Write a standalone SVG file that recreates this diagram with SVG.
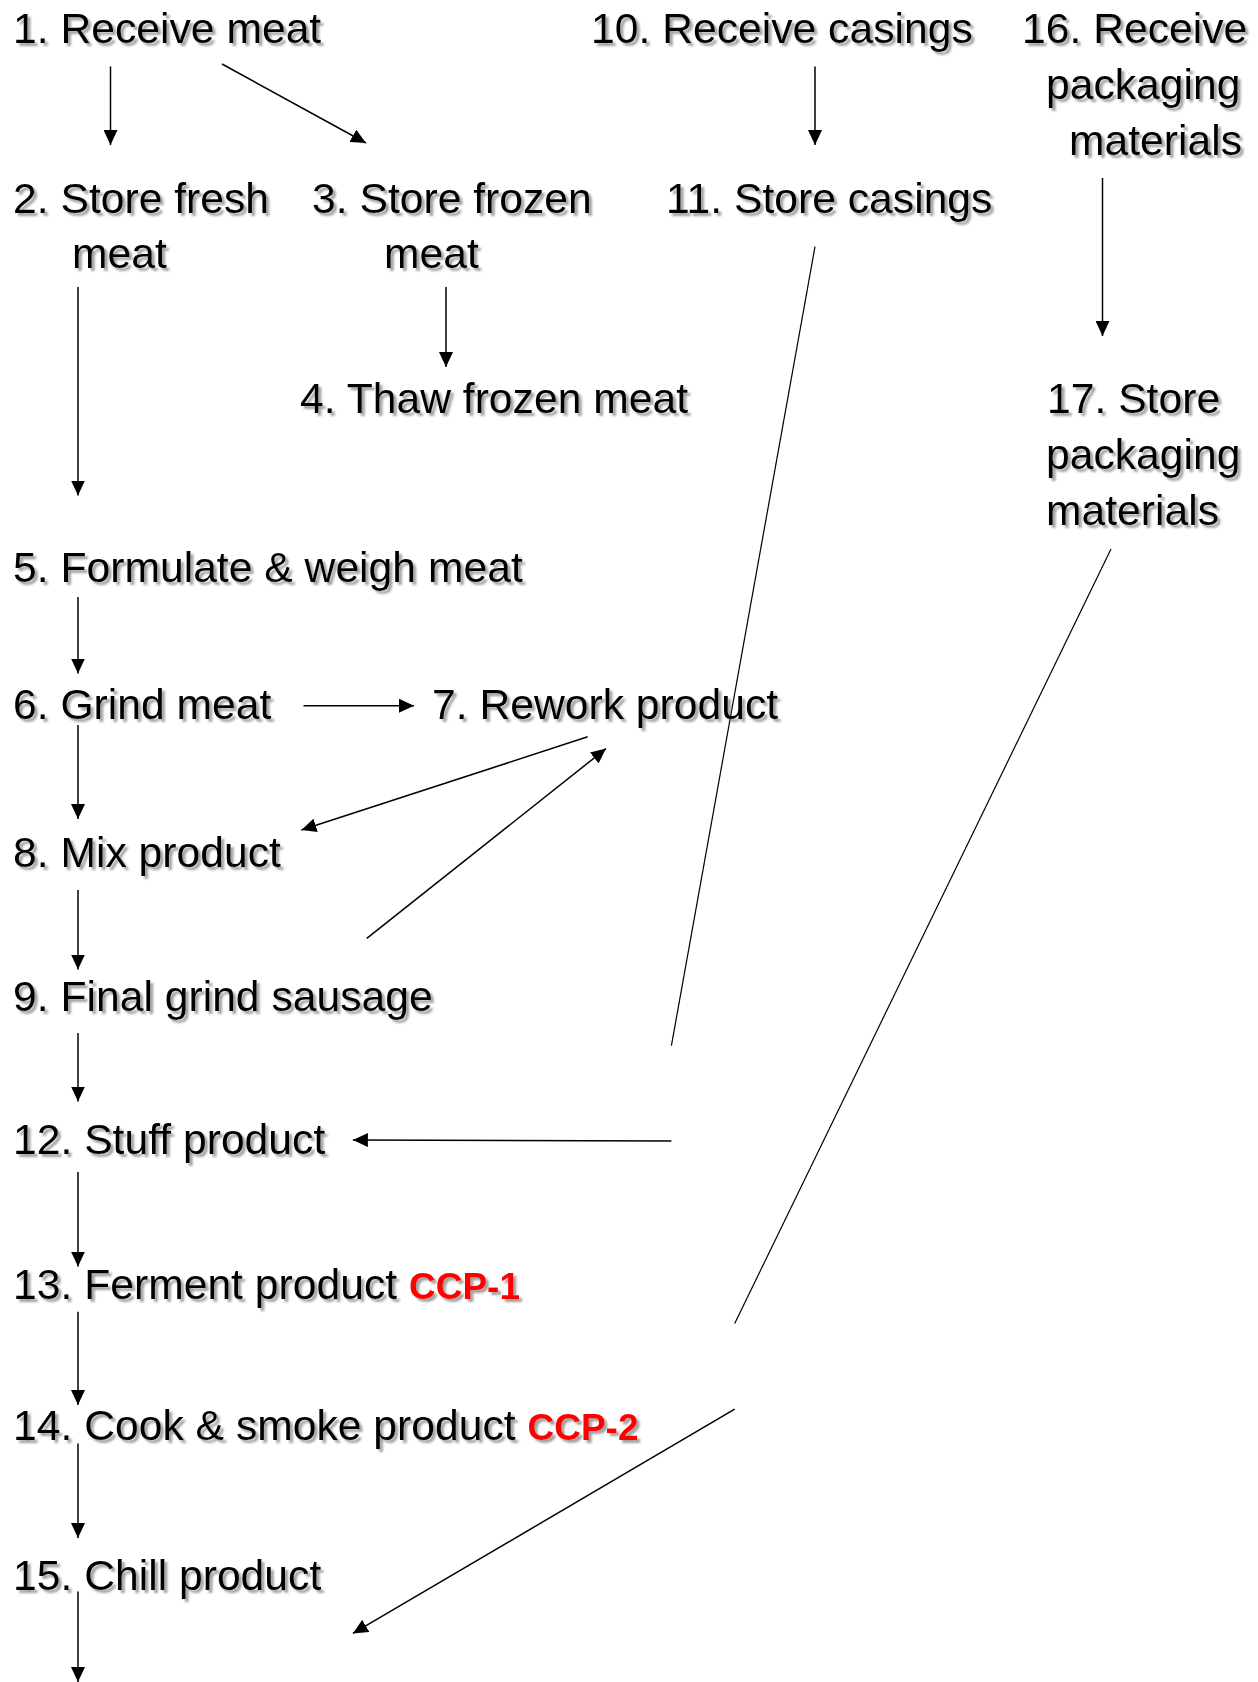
<svg xmlns="http://www.w3.org/2000/svg" width="1258" height="1682" viewBox="0 0 1258 1682">
<defs>
  <filter id="shadow" x="-5%" y="-20%" width="110%" height="150%">
    <feGaussianBlur in="SourceAlpha" stdDeviation="1.3" result="b"/>
    <feOffset in="b" dx="2.5" dy="2.5" result="o"/>
    <feFlood flood-color="#6e6e6e" flood-opacity="0.65"/>
    <feComposite in2="o" operator="in" result="s"/>
    <feMerge><feMergeNode in="s"/><feMergeNode in="SourceGraphic"/></feMerge>
  </filter>
  <marker id="arr" markerUnits="userSpaceOnUse" markerWidth="15" markerHeight="14" refX="15" refY="7" orient="auto">
    <path d="M0,0 L15,7 L0,14 z" fill="#000"/>
  </marker>
</defs>
<style>
  text { font-family: "Liberation Sans", Arial, sans-serif; font-size: 42.67px; fill: #000; filter: url(#shadow); }
  .ccp { font-weight: bold; fill: #ff0000; font-size: 37px; }
  .c line { stroke: #000; stroke-width: 1.5; }
  .c line.a { marker-end: url(#arr); }
</style>
<rect width="1258" height="1682" fill="#fff"/>
<g id="connectors" class="c">
  <line class="a" x1="110.5" y1="66.5" x2="110.5" y2="145"/>
  <line class="a" x1="222" y1="64" x2="366" y2="143"/>
  <line class="a" x1="815" y1="66.5" x2="815" y2="145"/>
  <line class="a" x1="1102.5" y1="178" x2="1102.5" y2="336"/>
  <line class="a" x1="78" y1="287" x2="78" y2="495.5"/>
  <line class="a" x1="446" y1="287" x2="446" y2="367"/>
  <line class="a" x1="78" y1="597" x2="78" y2="673.5"/>
  <line class="a" x1="303.5" y1="705.7" x2="414" y2="705.7"/>
  <line class="a" x1="78" y1="725" x2="78" y2="819"/>
  <line class="a" x1="587.7" y1="736.8" x2="301.4" y2="830"/>
  <line class="a" x1="366.8" y1="938.4" x2="606" y2="748.6"/>
  <line class="a" x1="78" y1="890" x2="78" y2="969.5"/>
  <line class="a" x1="78" y1="1033" x2="78" y2="1101.5"/>
  <line x1="815" y1="246.7" x2="671.4" y2="1045.7" style="stroke-width:1.2"/>
  <line class="a" x1="671.4" y1="1141" x2="352.9" y2="1140"/>
  <line class="a" x1="78" y1="1172" x2="78" y2="1266.6"/>
  <line class="a" x1="78" y1="1311.7" x2="78" y2="1405"/>
  <line class="a" x1="78" y1="1443.6" x2="78" y2="1538"/>
  <line class="a" x1="78" y1="1591.6" x2="78" y2="1682"/>
  <line x1="1111" y1="549" x2="734.7" y2="1323.5" style="stroke-width:1.2"/>
  <line class="a" x1="734.7" y1="1409.2" x2="352.9" y2="1633.4"/>
</g>
<g id="n1"><text x="13" y="43">1. Receive meat</text></g>
<g id="n2"><text x="13" y="213">2. Store fresh</text><text x="72" y="268">meat</text></g>
<g id="n3"><text x="312" y="213">3. Store frozen</text><text x="384" y="268">meat</text></g>
<g id="n4"><text x="300" y="413">4. Thaw frozen meat</text></g>
<g id="n5"><text x="13" y="582">5. Formulate &amp; weigh meat</text></g>
<g id="n6"><text x="13" y="718.5">6. Grind meat</text></g>
<g id="n7"><text x="432" y="718.5">7. Rework product</text></g>
<g id="n8"><text x="13" y="866.5">8. Mix product</text></g>
<g id="n9"><text x="13" y="1011">9. Final grind sausage</text></g>
<g id="n10"><text x="591" y="43">10. Receive casings</text></g>
<g id="n11"><text x="666" y="213">11. Store casings</text></g>
<g id="n12"><text x="13" y="1154">12. Stuff product</text></g>
<g id="n13"><text x="13" y="1299">13. Ferment product <tspan class="ccp">CCP-1</tspan></text></g>
<g id="n14"><text x="13" y="1440">14. Cook &amp; smoke product <tspan class="ccp">CCP-2</tspan></text></g>
<g id="n15"><text x="13" y="1590">15. Chill product</text></g>
<g id="n16"><text x="1022" y="43">16. Receive</text><text x="1046" y="99">packaging</text><text x="1069" y="155">materials</text></g>
<g id="n17"><text x="1047" y="413">17. Store</text><text x="1046" y="469">packaging</text><text x="1046" y="525">materials</text></g>
</svg>
